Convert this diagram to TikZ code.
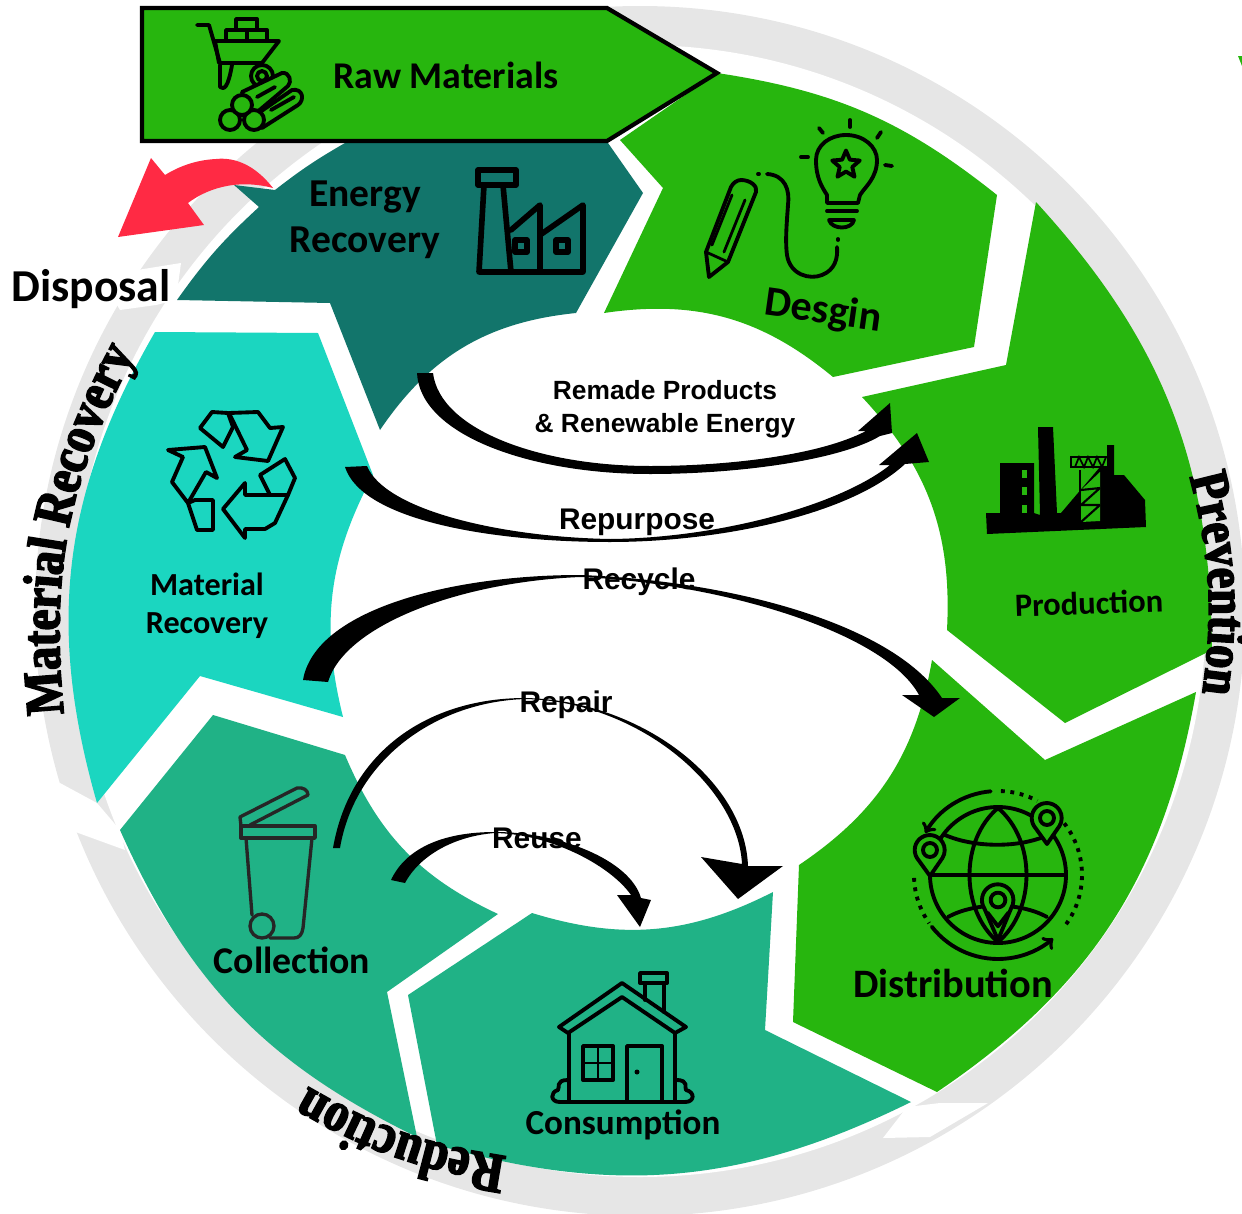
\documentclass[tikz,border=0pt]{standalone}
\usepackage{fontspec}
\setmainfont{Carlito}
\newfontfamily\arrowfont{Liberation Sans}
\newfontfamily\ringfont{Liberation Serif}[FakeStretch=0.86,BoldFeatures={FakeBold=3,FakeStretch=0.86}]
\usetikzlibrary{decorations.text,shapes.geometric}
\definecolor{leaf}{HTML}{27B60E}
\definecolor{pine}{HTML}{12756B}
\definecolor{aqua}{HTML}{1BD6C0}
\definecolor{sea}{HTML}{20B286}
\definecolor{ring}{HTML}{E6E6E6}
\definecolor{alarm}{HTML}{FF2A44}
\newcommand{\fs}[1]{\bfseries\fontsize{#1}{#1}\selectfont}
\newcommand{\mappin}[2]{\begin{scope}[shift={(#1,#2)}]
\draw[icon,fill=leaf] (0,26) -- (-13,8) arc[start angle=148,end angle=392,radius=15] -- cycle;
\draw[icon] (0,0) circle[radius=7];
\end{scope}}
\tikzset{
	seglabel/.style={align=center,inner sep=0pt,font=\fs{#1}},
	swlabel/.style={inner sep=0pt,font=\arrowfont\fs{#1}},
	icon/.style={line width=2.2pt,line join=round,line cap=round},
}
\begin{document}
\begin{tikzpicture}[x=0.02cm,y=-0.02cm]
\useasboundingbox (0,0) rectangle (1242,1214);
% grey ring
\fill[color=ring] (640,611) circle[radius=605];
\fill[color=white] (640,611) circle[radius=566];
\fill[color=white] (100,276) -- (181,263) -- (176,300) -- (156,305) -- (120,310) -- cycle;
\fill[color=white] (42,793) -- (60,783) -- (97,803) -- (120,830) -- (125,850) -- (70,830) -- (57,875) -- (40,840) -- cycle;
\fill[color=white] (907,1107) -- (940,1103) -- (988,1103) -- (930,1137) -- (883,1138) -- cycle;
\fill[color=leaf] (1238,56) -- (1242,56) -- (1242,66) -- cycle;
% segments
\fill[color=pine] (177,300) to[bend left=6] (259,207) -- (234,185) -- (275,190) to[bend left=4] (345,143) -- (608,143) -- (643,193) -- (576,313) to[bend right=25] (380,430) -- (330,303) -- cycle;
\fill[color=leaf] (717,73) to[bend left=15] (997,195) -- (974,347) -- (833,377) to[bend right=24] (604,313) -- (663,188) -- (620,140) -- cycle;
\fill[color=leaf] (1036,202) to[bend left=21] (1212,650) -- (1065,723) -- (947,630) to[bend right=23] (862,397) -- (1006,365) -- cycle;
\fill[color=leaf] (1196,692) to[bend left=23] (937,1092) -- (793,1022) -- (799,865) to[bend right=23] (932,660) -- (1045,760) -- cycle;
\fill[color=sea] (773,892) -- (765,1030) -- (911,1102) to[bend left=21] (437,1145) -- (408,995) -- (532,913) to[bend right=22] cycle;
\fill[color=sea] (120,830) -- (213,715) -- (345,755) to[bend right=21] (498,914) -- (387,992) -- (417,1137) to[bend left=20] cycle;
\fill[color=aqua] (97,803) to[bend left=23] (155,332) -- (318,333) -- (373,475) to[bend right=21] (343,717) -- (200,676) -- cycle;
% raw materials box
\draw[color=black,fill=leaf,line width=2.4pt] (142,8) -- (607,8) -- (717,73) -- (607,141) -- (142,141) -- cycle;
% red arrow
\fill[color=alarm] (273,188) .. controls (255,165) and (235,157) .. (216,159) .. controls (195,160) and (178,167) .. (165,175) -- (151,158) -- (118,237) -- (204,225) -- (188,203) .. controls (205,190) and (235,178) .. cycle;
% swooshes
\coordinate (remadeA) at (417,373);
\coordinate (remadeB) at (433,373);
\coordinate (remadeTip) at (890,403);
\fill (remadeA) .. controls (420,435) and (530,474) .. (650,474) .. controls (740,474) and (840,460) .. (880,436) -- (892,433) -- (remadeTip) -- (858,431) -- (866,431) .. controls (820,455) and (730,466) .. (650,466) .. controls (540,466) and (440,430) .. (remadeB) -- cycle;
\coordinate (purposeA) at (345,467);
\coordinate (purposeB) at (367,466);
\coordinate (purposeTip) at (917,433);
\fill (purposeA) .. controls (362,520) and (490,542) .. (610,542) .. controls (720,542) and (850,515) .. (905,464) -- (929,462) -- (purposeTip) -- (879,465) -- (890,465) .. controls (840,505) and (720,538) .. (610,539) .. controls (500,537) and (385,510) .. (purposeB) -- cycle;
\coordinate (recycleA) at (303,680);
\coordinate (recycleB) at (328,682);
\coordinate (recycleTip) at (934,717);
\fill (recycleA) .. controls (315,610) and (450,575) .. (580,575) .. controls (720,580) and (890,620) .. (942,698) -- (960,698) -- (recycleTip) -- (902,695) -- (919,695) .. controls (885,632) and (720,583) .. (580,577) .. controls (460,582) and (345,625) .. (recycleB) -- cycle;
\coordinate (repairA) at (333,848);
\coordinate (repairB) at (340,848);
\coordinate (repairTip) at (738,899);
\fill (repairA) .. controls (350,750) and (430,698) .. (525,698) .. controls (640,700) and (745,780) .. (748,866) -- (783,866) -- (repairTip) -- (701,857) -- (742,864) .. controls (738,785) and (636,701) .. (525,699) .. controls (435,702) and (355,760) .. (repairB) -- cycle;
\coordinate (reuseA) at (391,880);
\coordinate (reuseB) at (405,883);
\coordinate (reuseTip) at (640,927);
\fill (reuseA) .. controls (405,850) and (440,832) .. (495,832) .. controls (560,832) and (630,860) .. (641,898) -- (651,900) -- (reuseTip) -- (617,895) -- (631,895) .. controls (610,865) and (550,834) .. (495,833) .. controls (455,836) and (420,855) .. (reuseB) -- cycle;
% labels
\node[seglabel=21.5] (raw) at (446,75) {Raw Materials};
\node[seglabel=22.5] (energy) at (365,197) {Energy};
\node[seglabel=22.5] (energy2) at (365,243) {Recovery};
\node[seglabel=24,rotate=-8] (design) at (823,312) {Desgin};
\node[seglabel=18.5,rotate=2] (production) at (1089,603) {Production};
\node[seglabel=23] (distribution) at (953,983) {Distribution};
\node[seglabel=20] (consumption) at (623,1125) {Consumption};
\node[seglabel=21.5] (collection) at (292,960) {Collection};
\node[seglabel=18.3] (material) at (207,584) {Material};
\node[seglabel=18.3] (material2) at (207,626) {Recovery};
\node[seglabel=26] (disposal) at (91,289) {Disposal};
\node[swlabel=15] (remade) at (665,390) {Remade Products};
\node[swlabel=15] (renew) at (665,426) {\& Renewable Energy};
\node[swlabel=17] (repurpose) at (637,522) {Repurpose};
\node[swlabel=17] (recycle) at (639,582) {Recycle};
\node[swlabel=17] (repair) at (566,705) {Repair};
\node[swlabel=17] (reuse) at (537,838) {Reuse};
% ring labels
\path[decorate,decoration={text along path,text align=center,text={|\ringfont\fs{31}|Material Recovery}}] (64,716) to[bend left=17] (136,352);
\path[decorate,decoration={text along path,text align=center,text={|\ringfont\fs{31}|Prevention}}] (1187,467) to[bend left=12] (1201,703);
\path[decorate,decoration={text along path,text align=center,text={|\ringfont\fs{32}|Reduction}}] (510,1157) to[bend left=11] (305,1085);
% cart and logs
\draw[icon] (197,25) -- (209,25) -- (220,63);
\draw[icon] (215,41) -- (279,41) -- (262,63) -- (219,63) -- cycle;
\draw[icon] (236,19) rectangle (257,30);
\draw[icon] (226,30) rectangle (247,41);
\draw[icon] (247,30) rectangle (267,41);
\draw[icon] (220,65) -- (220,87) .. controls (224,90) and (228,88) .. (232,65);
\draw[icon,fill=leaf] (262,76) circle[radius=11];
\draw[icon] (262,76) circle[radius=5];
\draw[icon,fill=leaf] (242,92) -- (282,73) .. controls (290,72) and (292,82) .. (288,86) -- (262,108) -- (250,118) -- cycle;
\draw[icon,fill=leaf] (260,112) -- (292,90) .. controls (303,88) and (305,100) .. (298,105) -- (262,128) -- cycle;
\draw[icon,fill=leaf] (230,120) circle[radius=10];
\draw[icon,fill=leaf] (254,120) circle[radius=10];
\draw[icon,fill=leaf] (242,105) circle[radius=10];
\draw[icon] (257,97) -- (275,87);
\draw[icon] (271,110) -- (294,97);
% factory
\draw[icon,line width=3.2pt] (478,170) rectangle (516,185);
\draw[icon,line width=3.2pt] (484,185) -- (479,272) -- (583,272) -- (583,205) -- (540,235) -- (540,205) -- (511,230);
\draw[icon,line width=3.2pt] (503,185) -- (511,272);
\draw[icon,line width=3.2pt] (540,235) -- (540,272);
\draw[icon,line width=3.2pt] (515,240) rectangle (527,252);
\draw[icon,line width=3.2pt] (556,240) rectangle (568,252);
% bulb and pencil
\draw[icon] (827,203) -- (827,195) .. controls (822,187) and (816,178) .. (816,160) .. controls (816,145) and (830,135) .. (846,135) .. controls (864,135) and (877,147) .. (877,160) .. controls (877,178) and (865,187) .. (860,195) -- (858,203) -- cycle;
\draw[icon] (827,211) -- (857,211);
\draw[icon] (829,220) -- (854,220) .. controls (852,230) and (832,230) .. cycle;
\draw[icon] (838,239) -- (838,240);
\node[star,star points=5,star point ratio=2.2,draw,line width=2.2pt,line join=round,inner sep=0pt,minimum size=0.58cm] (bulbstar) at (846,165) {};
\draw[icon] (819,128) -- (823,133);
\draw[icon] (850,120) -- (850,127);
\draw[icon] (881,132) -- (877,138);
\draw[icon] (801,157) -- (808,157);
\draw[icon] (885,165) -- (892,166);
\draw[icon] (758,174) -- (759,174);
\draw[icon] (767,174) .. controls (785,175) and (790,190) .. (788,205) .. controls (787,220) and (785,240) .. (787,255) .. controls (790,275) and (810,280) .. (822,275) .. controls (835,270) and (838,258) .. (837,247);
\draw[icon] (741,180) .. controls (750,180) and (758,186) .. (756,192) -- (728,262) -- (709,277) -- (706,252) -- (731,187) .. controls (733,183) and (737,180) .. cycle;
\draw[icon,line width=1.6pt] (706,252) -- (728,262);
\draw[icon,line width=1.6pt] (732,195) -- (712,245);
\draw[icon,line width=1.6pt] (745,200) -- (724,252);
% plant
\fill (987,534) -- (986,513) -- (1000,513) -- (1000,463) -- (1034,463) -- (1034,513) -- (1040,515) -- (1038,427) -- (1053,427) -- (1057,513) -- (1061,513) -- (1100,467) -- (1107,467) -- (1107,445) -- (1114,445) -- (1114,475) -- (1124,475) -- (1145,500) -- (1146,527) -- cycle;
\fill[color=leaf] (1022,470) rectangle (1027,478);
\fill[color=leaf] (1022,487) rectangle (1027,495);
\fill[color=leaf] (1022,505) rectangle (1027,513);
\fill[color=leaf] (1081,490) -- (1100,472) -- (1100,521) -- (1081,522) -- cycle;
\draw[line width=1.2pt] (1081,522) -- (1100,505) (1081,505) -- (1100,505) (1081,505) -- (1100,488) (1081,490) -- (1100,488);
\draw[line width=1.4pt] (1080,470) -- (1080,522);
\draw[line width=1.4pt,fill=leaf] (1071,457) rectangle (1108,467);
\draw[line width=1pt] (1075,467) -- (1079,457) -- (1084,467) -- (1088,457) -- (1093,467) -- (1097,457) -- (1102,467) -- (1106,457);
% globe
\draw[icon] (998,875) circle[radius=68];
\draw[icon] (998,808) .. controls (960,840) and (960,910) .. (998,942);
\draw[icon] (998,808) .. controls (1036,840) and (1036,910) .. (998,942);
\draw[icon] (930,875) -- (1066,875);
\draw[icon] (945,835) .. controls (975,848) and (1020,848) .. (1048,835);
\draw[icon] (948,917) .. controls (975,902) and (1020,902) .. (1047,917);
\mappin{930}{850}
\mappin{1047}{818}
\begin{scope}[shift={(998,900)},scale=1.05]
\draw[icon,fill=leaf] (0,38) -- (-13,8) arc[start angle=148,end angle=392,radius=15] -- cycle;
\draw[icon] (0,0) circle[radius=7];
\draw[icon] (-10,12) -- (0,25) -- (10,12);
\end{scope}
\begin{scope}[shift={(998,875)}]
\draw[icon,->] (-95:84) arc[start angle=-95,end angle=-150,radius=84];
\draw[icon,->] (142:84) arc[start angle=142,end angle=49,radius=84];
\draw[icon,line cap=butt,dash pattern=on 2.2pt off 3.2pt] (-88:84) arc[start angle=-88,end angle=-62,radius=84];
\draw[icon,line cap=butt,dash pattern=on 2.2pt off 3.2pt] (-38:84) arc[start angle=-38,end angle=38,radius=84];
\draw[icon,line cap=butt,dash pattern=on 2.2pt off 3.2pt] (178:84) arc[start angle=178,end angle=145,radius=84];
\end{scope}
% house
\draw[icon] (559,1027) -- (622,983) -- (686,1027) -- (675,1033) -- (622,997) -- (568,1033) -- cycle;
\draw[icon] (645,1000) -- (645,983) -- (664,983) -- (664,1012);
\draw[icon] (640,973) rectangle (667,983);
\draw[icon] (569,1033) -- (569,1102);
\draw[icon] (675,1033) -- (675,1102);
\draw[icon] (560,1102) -- (685,1102);
\draw[icon] (583,1046) rectangle (613,1080);
\draw[icon,line width=1.6pt] (598,1046) -- (598,1080);
\draw[icon,line width=1.6pt] (583,1063) -- (613,1063);
\draw[icon] (627,1102) -- (627,1046) -- (662,1046) -- (662,1102);
\fill (637,1072) circle[radius=2.5];
\draw[icon] (568,1080) .. controls (555,1080) and (560,1088) .. (558,1090) .. controls (550,1092) and (550,1102) .. (560,1102);
\draw[icon] (676,1080) .. controls (690,1080) and (684,1088) .. (686,1090) .. controls (695,1092) and (695,1102) .. (685,1102);
% trash can
\draw[icon,line width=1.9pt,color=black!85] (241,826) -- (240,817) -- (297,788) .. controls (303,787) and (308,790) .. (308,795) -- (250,825);
\draw[icon,line width=1.9pt,color=black!85] (241,826) rectangle (315,838);
\draw[icon,line width=1.9pt,color=black!85] (246,838) -- (252,915);
\draw[icon,line width=1.9pt,color=black!85] (312,838) -- (303,928) .. controls (302,935) and (299,938) .. (294,938) -- (270,938);
\draw[icon,line width=1.9pt,color=black!85] (262,926) circle[radius=12];
% recycle symbol
\draw[icon] (200,428) -- (212,412) -- (228,413) -- (233,427) -- (223,447) -- cycle;
\draw[icon] (229,413) -- (258,412) -- (270,428) -- (283,427) -- (268,461) -- (235,457) -- (247,450) -- cycle;
\draw[icon] (168,450) -- (205,447) -- (217,478) -- (206,472) -- (188,503) -- (172,482) -- (183,457) -- cycle;
\draw[icon] (188,503) -- (195,500) -- (213,500) -- (213,530) -- (197,530) -- cycle;
\draw[icon] (223,509) -- (245,483) -- (245,495) -- (288,495) -- (275,523) -- (265,529) -- (245,529) -- (245,538) -- cycle;
\draw[icon] (260,475) -- (285,459) -- (295,478) -- (288,495) -- (270,495) -- cycle;
\end{tikzpicture}
\end{document}
